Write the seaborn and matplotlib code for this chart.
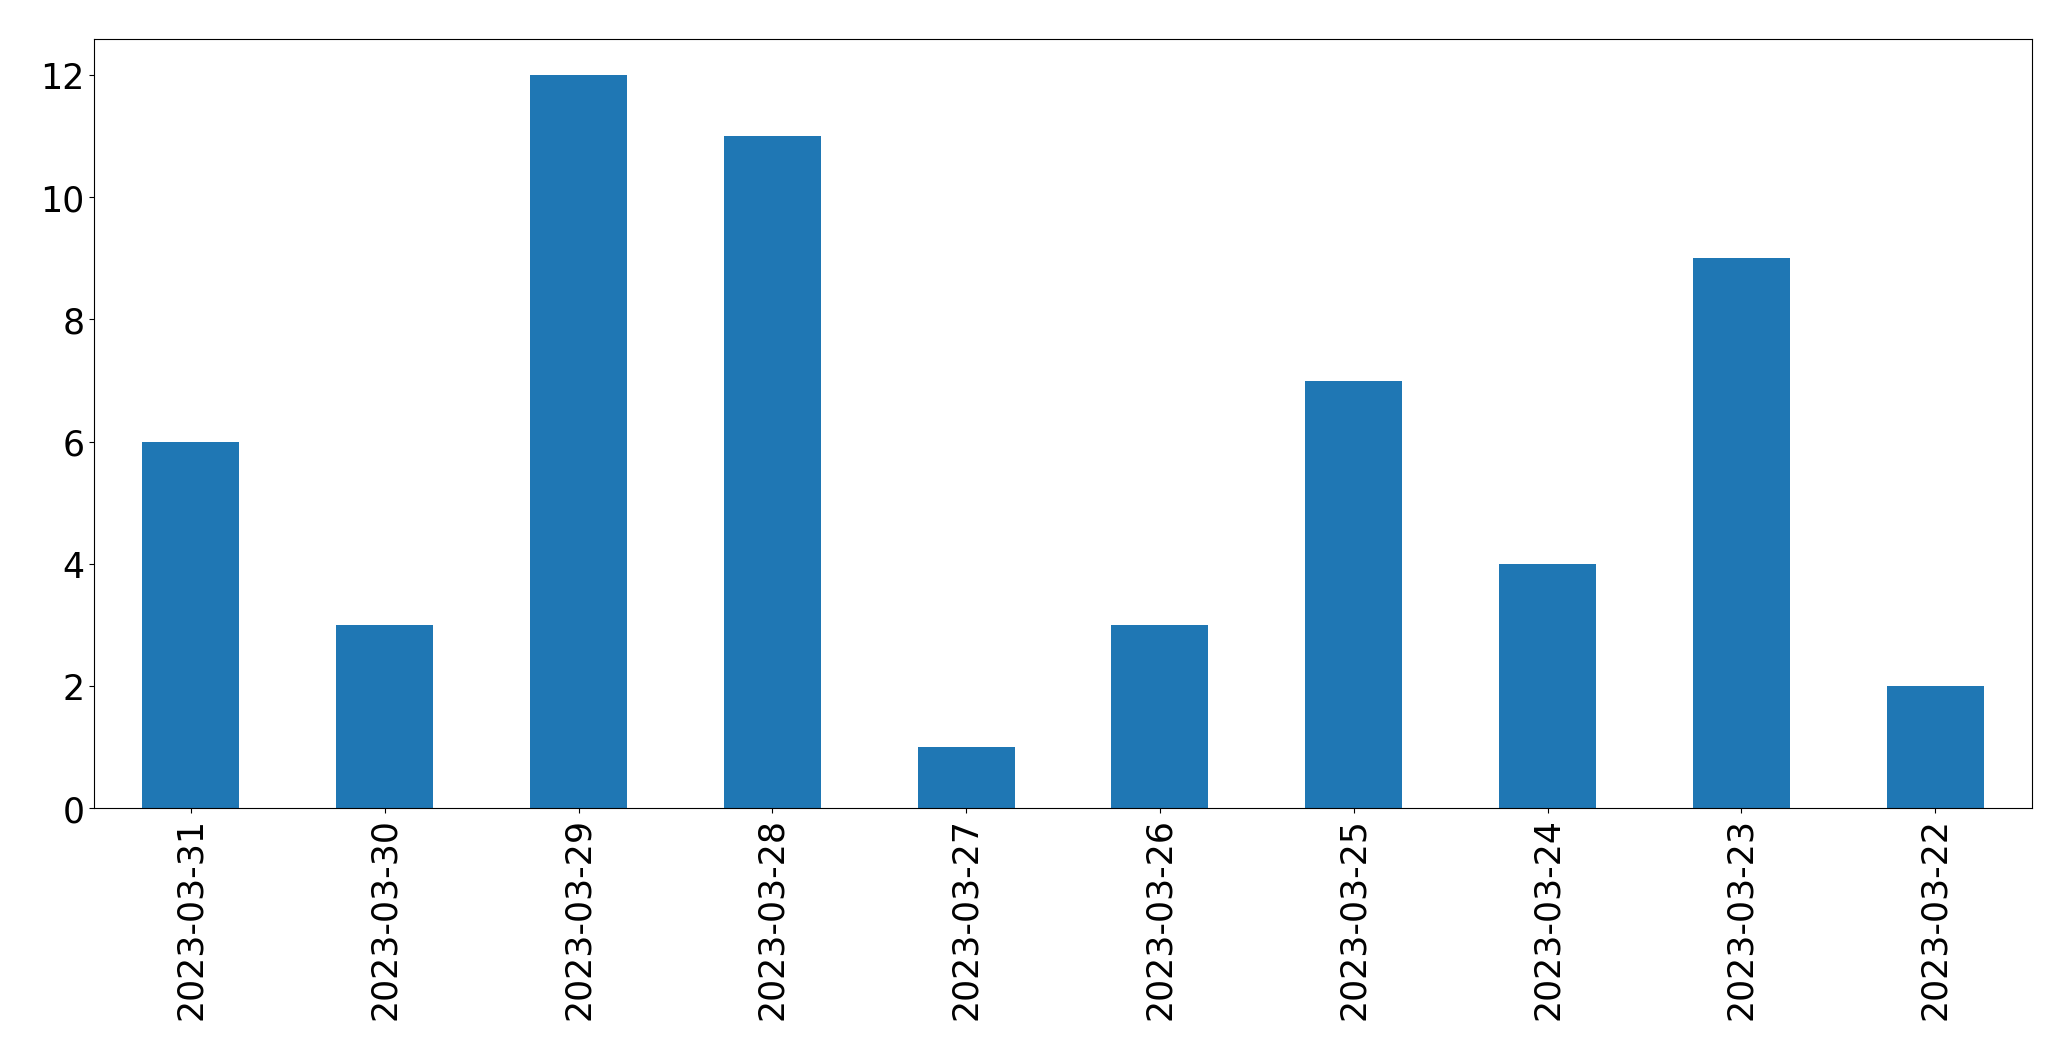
import pandas as pd
import seaborn as sns
import matplotlib.pyplot as plt

dates = ['2023-03-31', '2023-03-30', '2023-03-29', '2023-03-28', '2023-03-27',
         '2023-03-26', '2023-03-25', '2023-03-24', '2023-03-23', '2023-03-22']
counts = [6, 3, 12, 11, 1, 3, 7, 4, 9, 2]

df = pd.DataFrame({'date': dates, 'count': counts})

fig, ax = plt.subplots(figsize=(20.71, 10.605), dpi=100)
fig.subplots_adjust(left=0.0454, right=0.9812, top=0.9632, bottom=0.2375)

sns.barplot(ax=ax, data=df, x='date', y='count', order=dates,
            color='#1f77b4', saturation=1, width=0.5)
ax.set_xlim(-0.5, len(dates) - 0.5)
ax.set_ylim(0, 12.6)
ax.set_xlabel('')
ax.set_ylabel('')
ax.tick_params(axis='both', labelsize=25)
plt.xticks(rotation=90)

plt.savefig('out.png', dpi=100)
